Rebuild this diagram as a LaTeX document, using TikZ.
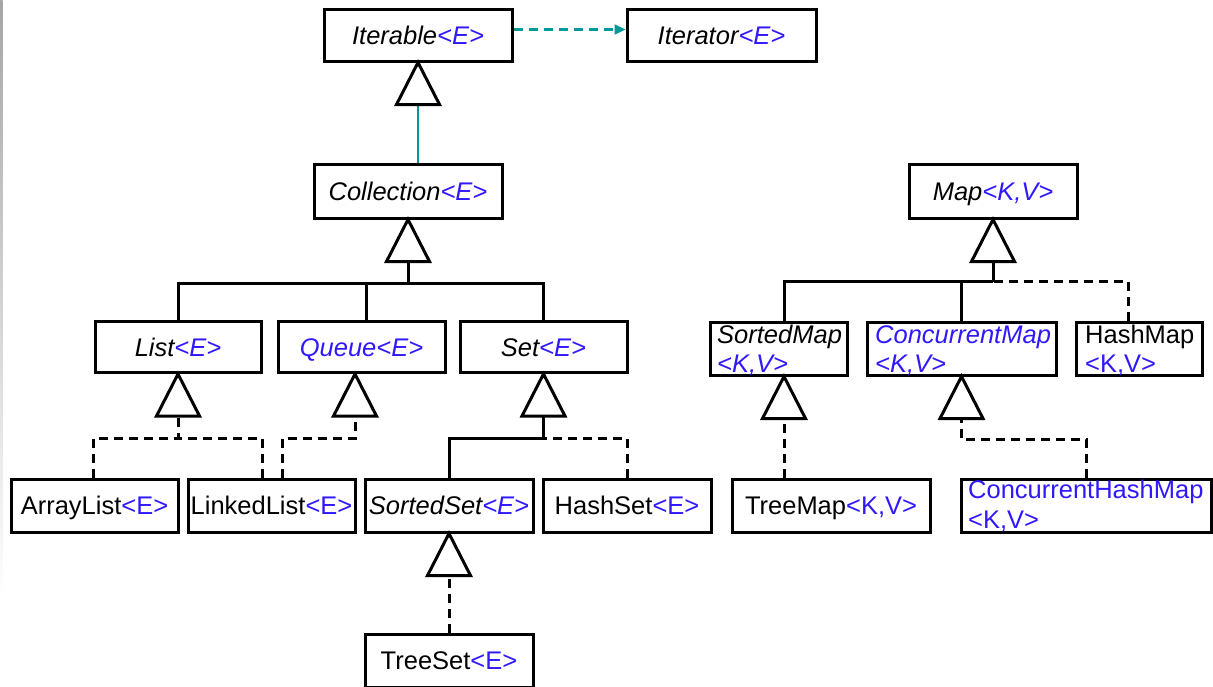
\documentclass[tikz,border=0pt]{standalone}
\usepackage{fontspec}
\setmainfont{Liberation Sans}
\usetikzlibrary{arrows.meta,calc}
\definecolor{tblue}{RGB}{48,24,255}
\definecolor{tteal}{RGB}{0,153,153}
\newcommand{\blu}[1]{\textcolor{tblue}{#1}}
\begin{document}
\begin{tikzpicture}[x=1pt,y=-1pt,
  box/.style={draw, line width=3pt, minimum width=#1, minimum height=53pt, inner sep=0pt,
    text height=18.3pt, text depth=0pt, font=\fontsize{25.5}{29}\selectfont},
  lbl/.style={inner sep=0pt, anchor=base west, font=\fontsize{25.5}{29}\selectfont},
  tri/.style={draw, line width=3pt, fill=white, line join=miter},
  sol/.style={line width=3pt},
  dsh/.style={line width=3pt, dash pattern=on 9pt off 6pt},
  tline/.style={draw=tteal, line width=2.2pt}
]
\useasboundingbox (0,0) rectangle (1213,686);
\shade[top color=black!35, bottom color=white] (0,0) rectangle (2.5,600);

% boxes
\node[box=188pt, minimum height=52pt] (Iterable) at (418,35) {\itshape Iterable\blu{<E>}};
\node[box=189pt, minimum height=52pt] (Iterator) at (721.5,35) {\itshape Iterator\blu{<E>}};
\node[box=188pt, minimum height=54pt] (Collection) at (408,191) {\itshape Collection\blu{<E>}};
\node[box=168pt, minimum height=54pt] (Map) at (993,191) {\itshape Map\blu{<K,V>}};
\node[box=166pt, minimum height=51pt] (List) at (178,347) {\itshape List\blu{<E>}};
\node[box=167pt, minimum height=51pt] (Queue) at (361.5,347) {\itshape\blu{Queue<E>}};
\node[box=167pt, minimum height=51pt] (Set) at (543.5,347) {\itshape Set\blu{<E>}};
\node[box=137pt] (SortedMap) at (778.5,348.5) {};
\node[box=189pt] (ConcurrentMap) at (961.5,348.5) {};
\node[box=126pt] (HashMap) at (1139,348.5) {};
\node[box=167pt] (ArrayList) at (94.5,505.5) {ArrayList\blu{<E>}};
\node[box=167pt] (LinkedList) at (271.5,505.5) {LinkedList\blu{<E>}};
\node[box=168pt] (SortedSet) at (449,505.5) {\itshape SortedSet\blu{<E>}};
\node[box=168pt] (HashSet) at (627,505.5) {HashSet\blu{<E>}};
\node[box=198pt] (TreeMap) at (831,505.5) {TreeMap\blu{<K,V>}};
\node[box=250pt] (ConcurrentHashMap) at (1086.5,505.5) {};
\node[box=168pt] (TreeSet) at (449,660.5) {TreeSet\blu{<E>}};

% two-line labels
\node[lbl] (SortedMapT1) at (717,343) {\itshape SortedMap};
\node[lbl] (SortedMapT2) at (717,372) {\itshape\blu{<K,V>}};
\node[lbl] (ConcurrentMapT1) at (875,343) {\itshape\blu{ConcurrentMap}};
\node[lbl] (ConcurrentMapT2) at (875,372) {\itshape\blu{<K,V>}};
\node[lbl] (HashMapT1) at (1085,343) {HashMap};
\node[lbl] (HashMapT2) at (1085,372) {\blu{<K,V>}};
\node[lbl] (CHMT1) at (968,498) {\blu{ConcurrentHashMap}};
\node[lbl] (CHMT2) at (968,528) {\blu{<K,V>}};

% triangle apex / base coordinates
\coordinate (IterableA) at (Iterable.south);
\coordinate (CollectionA) at (Collection.south);
\coordinate (MapA) at (Map.south);
\coordinate (ListA) at (List.south);
\coordinate (QueueA) at ([xshift=-6.5pt]Queue.south);
\coordinate (SetA) at (Set.south);
\coordinate (SortedMapA) at ([xshift=5.5pt]SortedMap.south);
\coordinate (ConcurrentMapA) at (ConcurrentMap.south);
\coordinate (SortedSetA) at (SortedSet.south);
\foreach \n in {Iterable,Collection,Map,List,Queue,Set,SortedMap,ConcurrentMap,SortedSet}{
  \path (\n A) ++(0,42) coordinate (\n B);
}

% junctions
\path (CollectionB) ++(0,22) coordinate (CollJ);
\path (ListB) ++(0,22) coordinate (ListJ);
\path (QueueB) ++(0,22) coordinate (QueueJ);
\path (SetB) ++(0,22) coordinate (SetJ);
\path (MapB) ++(0,20) coordinate (MapJ);
\path (ConcurrentMapB) ++(0,21) coordinate (CMJ);
\coordinate (QueueUp) at ([xshift=4.5pt]Queue.north);
\coordinate (LLQ) at ([xshift=10.5pt]LinkedList.north);
\coordinate (HMUp) at ([xshift=-10.5pt]HashMap.north);

% connectors
\draw[tline, dash pattern=on 9pt off 6pt, -{Triangle[length=11pt,width=10pt]}]
  ([yshift=5.5pt]Iterable.east) -- ([yshift=5.5pt]Iterator.west);
\draw[tline] (Collection.north -| IterableB) -- (IterableB);

\draw[sol] (CollectionB) -- (CollJ);
\draw[sol] (List.north) |- (CollJ);
\draw[sol] (Set.north) |- (CollJ);
\draw[sol] (QueueUp) -- (QueueUp |- CollJ);

\draw[dsh] (ArrayList.north -| List.west) |- (ListJ) -- (ListB);
\draw[dsh] (LinkedList.north -| List.east) |- (ListJ);
\draw[dsh] (LLQ) |- (QueueJ) -- (QueueB);

\draw[sol] (SortedSet.north) |- (SetJ) -- (SetB);
\draw[dsh] (HashSet.north) |- (SetJ);
\draw[dsh] (TreeSet.north) -- (SortedSetB);

\draw[sol] (MapB) -- (MapJ);
\draw[sol] (SortedMapA |- SortedMap.north) |- (MapJ);
\draw[sol] (ConcurrentMap.north) |- (MapJ);
\draw[dsh] (HMUp) |- (MapJ);
\draw[dsh] (TreeMap.north -| SortedMapB) -- (SortedMapB);
\draw[dsh] (ConcurrentHashMap.north) |- (CMJ) -- (ConcurrentMapB);

% inheritance triangles
\foreach \n in {Iterable,Collection,Map,List,Queue,Set,SortedMap,ConcurrentMap,SortedSet}{
  \draw[tri] (\n A) -- ++(-21.5,42) -- ++(43,0) -- cycle;
}
\end{tikzpicture}
\end{document}
